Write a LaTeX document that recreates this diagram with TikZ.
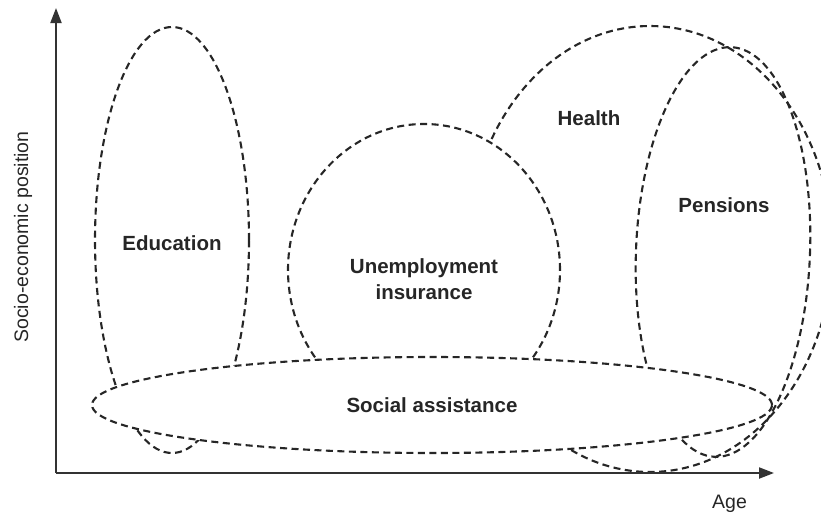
\documentclass[tikz,border=0pt]{standalone}
\usepackage{fontspec}
\setmainfont{Liberation Sans}
\usetikzlibrary{arrows.meta}
\begin{document}
\begin{tikzpicture}[x=1pt,y=-1pt,
  region/.style={draw=black!85,line width=2.1pt,dash pattern=on 7pt off 4.5pt},
  opaque/.style={region,fill=white},
  axisline/.style={draw=black!80,line width=2pt,-{Triangle[length=15pt,width=11pt]}},
  lab/.style={font=\fontsize{20.5}{26}\selectfont\bfseries,text=black!85,inner sep=0pt,align=center},
  axlab/.style={font=\fontsize{19.5}{24}\selectfont,text=black!85,inner sep=0pt}]
\useasboundingbox (0,0) rectangle (821,514);
% centres of the regions
\coordinate (hc) at (650,249);
\coordinate (pc) at (723,252);
\coordinate (ec) at (172,240);
\coordinate (uc) at (424,270);
\coordinate (sc) at (432,405);
% regions
\draw[region] (hc) ellipse [x radius=182pt, y radius=223pt];
\draw[region, rotate around={-2.3:(pc)}] (pc) ellipse [x radius=87pt, y radius=205pt];
\draw[region] (ec) ellipse [x radius=77pt, y radius=213pt];
\draw[opaque] (uc) ellipse [x radius=136pt, y radius=146pt];
\draw[opaque] (sc) ellipse [x radius=340pt, y radius=48pt];
% axes
\coordinate (origin) at (56,473);
\coordinate (ytip) at (56,8);
\coordinate (xtip) at (774,473);
\draw[axisline] (origin) -- (ytip);
\draw[axisline] (origin) -- (xtip);
% labels
\node[lab,anchor=base] (edu) at (172,250) {Education};
\node[lab] (unemp) at (424,279) {Unemployment\\insurance};
\node[lab,anchor=base] (health) at (589,125) {Health};
\node[lab,anchor=base] (pens) at (724,212) {Pensions};
\node[lab,anchor=base] (sa) at (432,412) {Social assistance};
\node[axlab,anchor=base] (age) at (729.5,508) {Age};
\node[axlab,rotate=90,anchor=base] (sep) at (28,237) {Socio-economic position};
\end{tikzpicture}
\end{document}
